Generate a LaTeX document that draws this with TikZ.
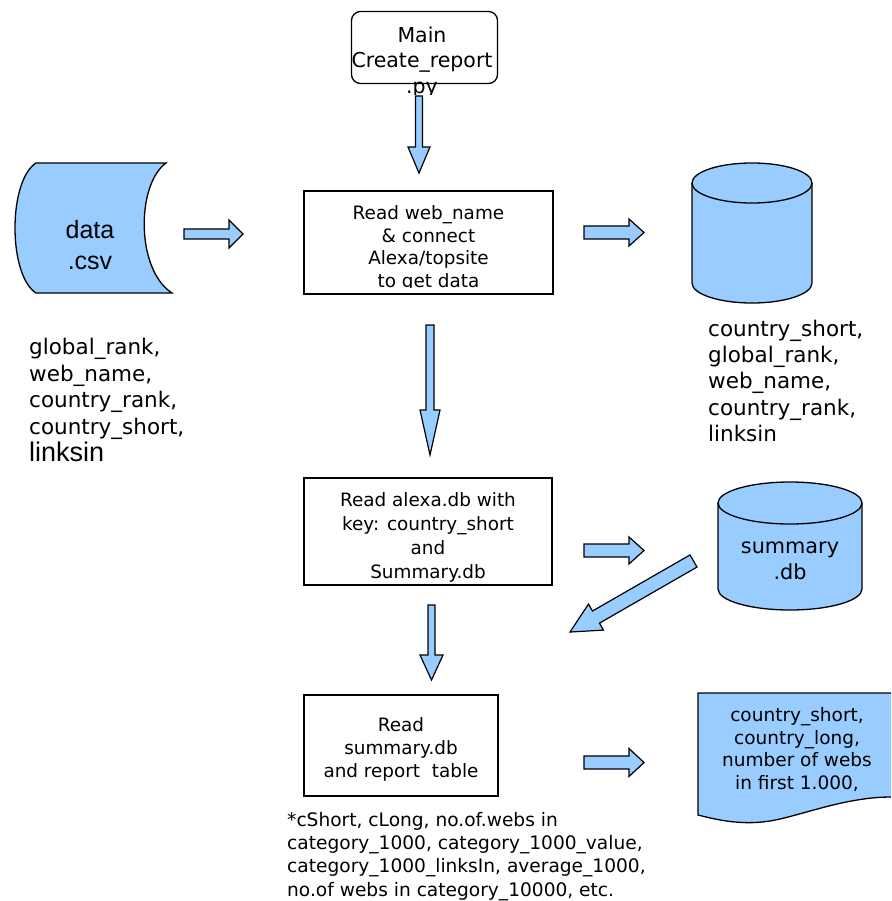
\documentclass[tikz,border=0pt]{standalone}
\usepackage{fontspec}
\setmainfont{DejaVu Sans}
\newfontfamily\arialfont{Liberation Sans}
\definecolor{fillblue}{HTML}{99CCFF}
\tikzset{
  outl/.style={draw=black, line width=1.3pt, line join=miter},
  boxsty/.style={outl, fill=white, rectangle, inner sep=0pt},
  blue shape/.style={outl, fill=fillblue},
  arrowsty/.style={outl, fill=fillblue, line width=1.2pt},
  txt/.style={inner sep=0pt, align=center, text=black},
  boxtxt/.style={txt, font=\fontsize{18.4}{23.5}\selectfont},
  listtxt/.style={inner sep=0pt, align=left, anchor=north west, font=\fontsize{21.5}{26.2}\selectfont},
}
\newcommand\blockarrow[7]{%
  \draw[arrowsty, shift={(#1,#2)}, rotate=#3]
    (0,-#5) -- ({#4-#7},-#5) -- ({#4-#7},-#6) -- (#4,0) -- ({#4-#7},#6) -- ({#4-#7},#5) -- (0,#5) -- cycle;}
\begin{document}
\begin{tikzpicture}[x=1pt,y=-1pt]
\clip (0,0) rectangle (891,901);
\fill[white] (0,0) rectangle (891,901);

% main box
\node[boxsty, rounded corners=9pt, minimum width=146pt, minimum height=72pt] (main) at (424.5,47.5) {};
\begin{scope}
  \clip (340,0) rectangle (510,95);
  \node[txt, font=\fontsize{20.5}{25.5}\selectfont] (maintxt) at (422,62) {Main\\Create\_report\\.py};
\end{scope}

% box 2
\node[boxsty, minimum width=249pt, minimum height=103pt] (read1) at (428.5,242.5) {};
\begin{scope}
  \clip (305,192) rectangle (552,287.5);
  \node[boxtxt, font=\fontsize{18.4}{22.7}\selectfont] (read1txt) at (428.5,248.5) {Read web\_name\\\& connect\\Alexa/topsite\\to get data};
\end{scope}

% box 3
\node[boxsty, minimum width=248pt, minimum height=107pt] (read2) at (428,531.5) {};
\node[boxtxt, font=\fontsize{18.4}{24}\selectfont] (read2txt) at (428,537) {Read alexa.db with\\key: country\_short\\and\\Summary.db};

% box 4
\node[boxsty, minimum width=194pt, minimum height=101pt] (read3) at (401,745.5) {};
\node[boxtxt, font=\fontsize{18.4}{23}\selectfont] (read3txt) at (401,749) {Read\\summary.db\\and report~~table};

% data.csv stored data shape
\draw[blue shape] (36,163) -- (166,163) .. controls (136,185) and (136,270) .. (172,293)
   -- (36,293) .. controls (8,275) and (8,181) .. (36,163) -- cycle;
\node[txt, font=\arialfont\fontsize{25}{31}\selectfont] (data) at (90,245) {data\\.csv};

% cylinder 1
\draw[blue shape] (692,183) -- (692,283) arc[start angle=180, end angle=0, x radius=60, y radius=20] -- (812,183);
\draw[blue shape] (752,183) ellipse[x radius=60, y radius=20];
\coordinate (db1) at (752,233);

% cylinder 2
\draw[blue shape] (718,503) -- (718,589) arc[start angle=180, end angle=0, x radius=72, y radius=21] -- (862,503);
\draw[blue shape] (790,503) ellipse[x radius=72, y radius=21];
\node[txt, font=\fontsize{20.8}{26}\selectfont] (summ) at (790,561) {summary\\.db};

% document shape
\draw[blue shape] (698,815) -- (698,693) -- (900,693) -- (900,797) -- (891,797)
   .. controls (850,797) and (810,812) .. (780,819) .. controls (750,826) and (725,822) .. (698,815) -- cycle;
\node[txt, font=\fontsize{18.5}{22.5}\selectfont] (doc) at (797,749.5) {country\_short,\\country\_long,\\number of webs\\in first 1.000,};

% lists
\node[listtxt, font=\fontsize{21.5}{26.5}\selectfont] (leftlist) at (29,338) {global\_rank,\\web\_name,\\country\_rank,\\country\_short,\\[1pt]{\arialfont\fontsize{27}{26}\selectfont linksin}};
\node[listtxt] (rightlist) at (708,320) {country\_short,\\global\_rank,\\web\_name,\\country\_rank,\\linksin};
\node[inner sep=0pt, align=left, anchor=north west, font=\fontsize{18.6}{23.3}\selectfont] (note) at (287,812)
  {*cShort, cLong, no.of.webs in\\category\_1000, category\_1000\_value,\\category\_1000\_linksIn, average\_1000,\\no.of webs in category\_10000, etc.};

% block arrows
\blockarrow{419}{96}{-90}{77}{3.5}{11}{26}
\blockarrow{184}{234}{0}{59}{5}{14}{14}
\blockarrow{584}{232.5}{0}{60}{6.5}{13.5}{15}
\blockarrow{430}{325}{-90}{130}{4}{10}{45}
\blockarrow{584}{550.5}{0}{60}{6.5}{13.5}{15}
\blockarrow{693.5}{561}{209.9}{142.5}{7}{15}{30}
\blockarrow{431.5}{605}{-90}{75}{3.5}{11.5}{25}
\blockarrow{584}{762.5}{0}{60}{6.5}{14}{15}
\end{tikzpicture}
\end{document}
